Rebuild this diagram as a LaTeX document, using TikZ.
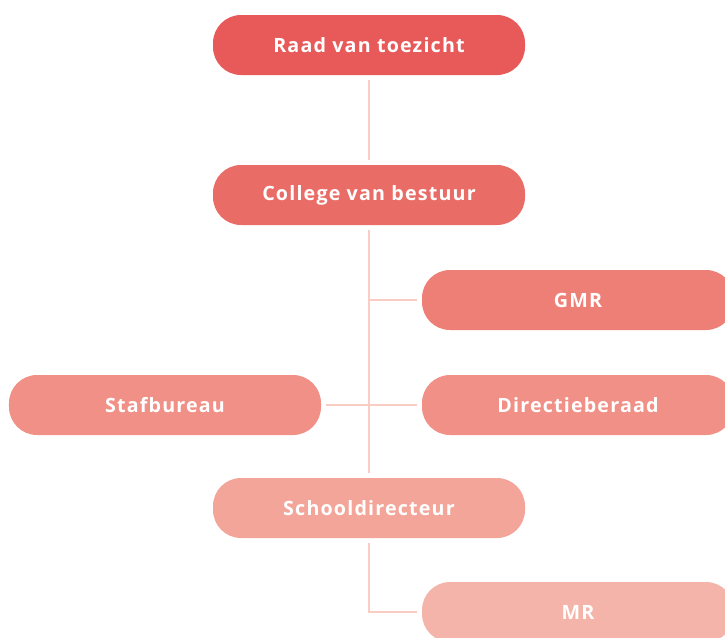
\documentclass[tikz,border=0pt]{standalone}
\usepackage{fontspec}
\setmainfont{Open Sans}[LetterSpace=6]
\usepackage{tikz}
\usetikzlibrary{calc}
\usetikzlibrary{shapes,arrows,positioning}

\definecolor{raadred}{HTML}{E85A5A}
\definecolor{cvbred}{HTML}{EA6C66}
\definecolor{gmrred}{HTML}{EE7F77}
\definecolor{dirred}{HTML}{F09086}
\definecolor{schoolred}{HTML}{F2A598}
\definecolor{mrred}{HTML}{F5B4A9}
\definecolor{linepink}{HTML}{F9CCC4}

\begin{document}
\begin{tikzpicture}[auto]
    % Define styles
    \tikzstyle{box} = [rectangle, rounded corners=0.7cm, minimum width=7.8cm, minimum height=1.5cm, text=white, font=\fontsize{14}{16}\selectfont\bfseries, outer sep=0.12cm]
    \tikzstyle{connector} = [linepink, line width=1pt]

    % Fix the margins
    \useasboundingbox (0,0) rectangle (18.125,-15.925);

    % Draw the boxes
    \node[box, fill=raadred] (raad) at (9.225,-1.125) {Raad van toezicht};
    \node[box, fill=cvbred, below=2.01cm of raad] (cvb) {College van bestuur};
    \node[box, fill=gmrred] (gmr) at (14.45,-7.5) {GMR};
    \node[box, fill=dirred, below=0.885cm of gmr] (dir) {Directieberaad};
    \node[box, fill=dirred, left=2.285cm of dir] (staf) {Stafbureau};
    \node[box, fill=schoolred, below=6.085cm of cvb] (school) {Schooldirecteur};
    \node[box, fill=mrred, below=3.435cm of dir] (mr) {MR};

    % Draw the connectors
    \draw[connector] (raad) -- (cvb);
    \draw[connector] (cvb) -- (school);
    \draw[connector] (cvb.south |- gmr.west) -- (gmr);
    \draw[connector] (staf) -- (dir);
    \draw[connector] (school.south) |- (mr.west);
\end{tikzpicture}
\end{document}
